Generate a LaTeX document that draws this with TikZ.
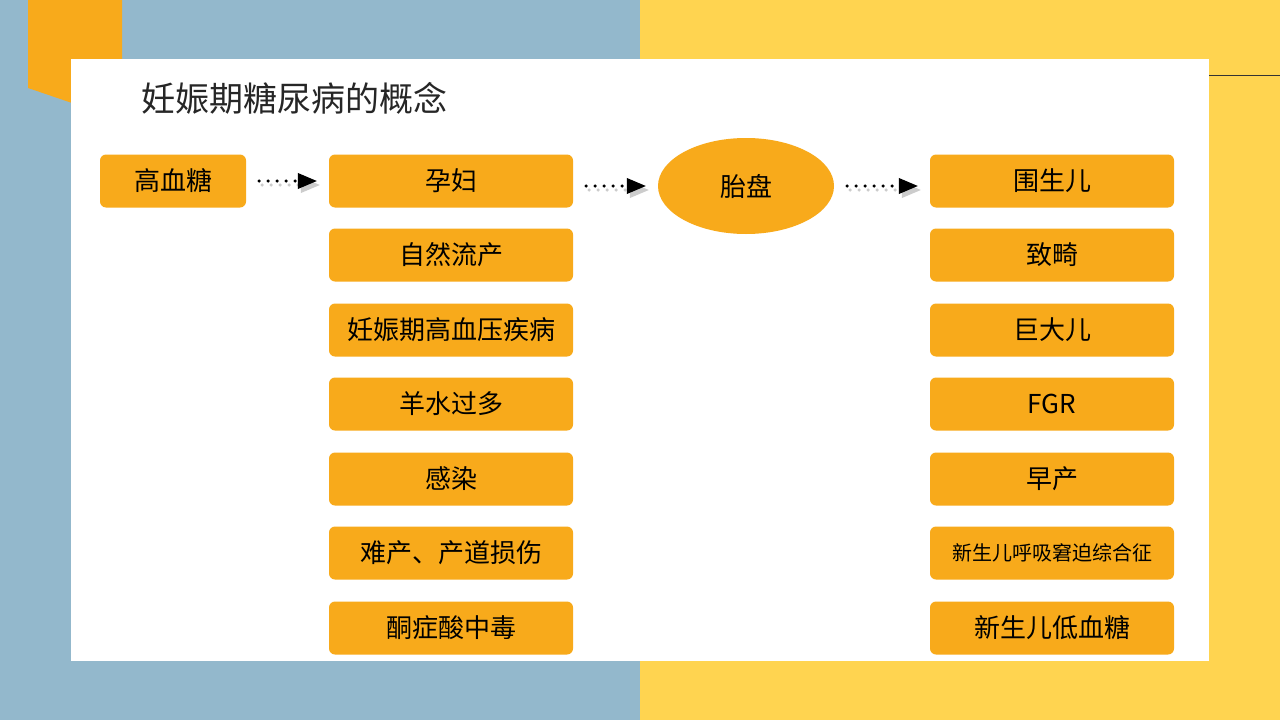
\documentclass[tikz,border=0pt]{standalone}
\usepackage{fontspec}
\setmainfont{Noto Sans CJK SC}
\usetikzlibrary{shapes.geometric, arrows}
\definecolor{bgblue}{HTML}{93B8CC}
\definecolor{bgyellow}{HTML}{FFD450}
\definecolor{boxorange}{HTML}{F8AA1B}
\tikzstyle{sign} = [rectangle, rounded corners=6pt, minimum width=244pt, minimum height=53pt, text centered, fill=boxorange, font=\fontsize{26pt}{30pt}\selectfont]
\tikzstyle{start} = [sign, minimum width=146pt]
\tikzstyle{organ} = [ellipse, minimum width=176pt, minimum height=96pt, fill=boxorange, font=\fontsize{26pt}{30pt}\selectfont]
\tikzstyle{dotarrow} = [line width=3.5pt, line cap=round, dash pattern=on 0pt off 9pt, -triangle 45, shorten <=13pt, shorten >=12pt]
\begin{document}
\begin{tikzpicture}[x=1pt, y=-1pt]
    \useasboundingbox (0,0) rectangle (1280,720);
    \fill[bgblue] (0,0) rectangle (640,720);
    \fill[bgyellow] (640,0) rectangle (1280,720);
    \fill[boxorange] (28,0) -- (122,0) -- (122,120) -- (28,88) -- cycle;
    \fill[white] (71,59) rectangle (1209,661);
    \draw[line width=1pt, black!80] (1209,75) -- (1280,75);
    \node (title) [anchor=west, font=\fontsize{34pt}{40pt}\selectfont, text=black!85] at (138,98) {妊娠期糖尿病的概念};
    % first row
    \node (hyper) [start] at (173,181) {高血糖};
    \node (mother) [sign] at (451,181) {孕妇};
    \node (placenta) [organ] at (746,186) {胎盘};
    \node (fetus) [sign] at (1052,181) {围生儿};
    % maternal outcomes
    \node (m1) [sign] at (451,255) {自然流产};
    \node (m2) [sign] at (451,330) {妊娠期高血压疾病};
    \node (m3) [sign] at (451,404) {羊水过多};
    \node (m4) [sign] at (451,479) {感染};
    \node (m5) [sign] at (451,553) {难产、产道损伤};
    \node (m6) [sign] at (451,628) {酮症酸中毒};
    % fetal outcomes
    \node (f1) [sign] at (1052,255) {致畸};
    \node (f2) [sign] at (1052,330) {巨大儿};
    \node (f3) [sign] at (1052,404) {FGR};
    \node (f4) [sign] at (1052,479) {早产};
    \node (f5) [sign, font=\fontsize{20pt}{24pt}\selectfont] at (1052,553) {新生儿呼吸窘迫综合征};
    \node (f6) [sign] at (1052,628) {新生儿低血糖};
    % arrows with shadow
    \draw [dotarrow, black!20, transform canvas={shift={(3pt,-4pt)}}] (hyper.east) -- (mother.west);
    \draw [dotarrow] (hyper.east) -- (mother.west);
    \draw [dotarrow, black!20, transform canvas={shift={(3pt,-4pt)}}] (mother.east|-placenta) -- (placenta.west);
    \draw [dotarrow] (mother.east|-placenta) -- (placenta.west);
    \draw [dotarrow, black!20, transform canvas={shift={(3pt,-4pt)}}] (placenta.east) -- (fetus.west|-placenta);
    \draw [dotarrow] (placenta.east) -- (fetus.west|-placenta);
\end{tikzpicture}
\end{document}
